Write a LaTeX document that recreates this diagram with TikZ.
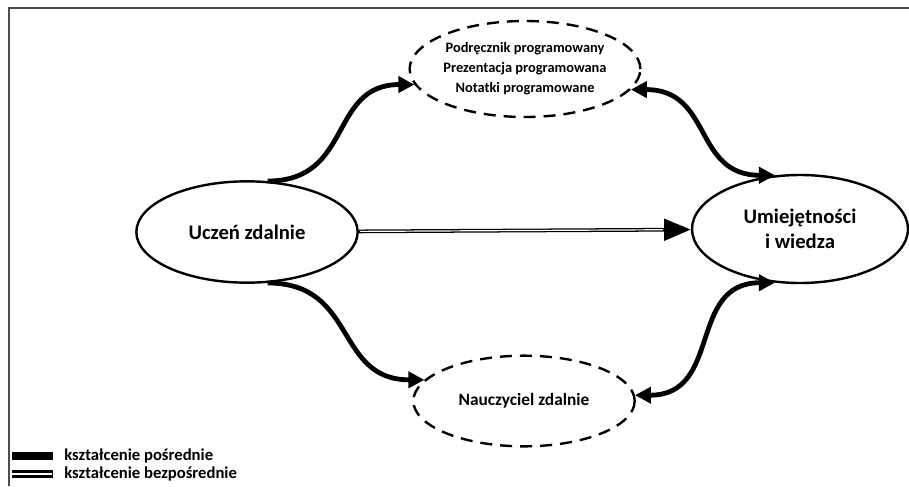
\documentclass[tikz,border=0pt]{standalone}
\usepackage{fontspec}
\setmainfont{Carlito}
\usetikzlibrary{shapes.geometric,arrows.meta}

\tikzset{
  blob/.style={ellipse,draw,line width=1.8pt,inner sep=0pt,align=center,font=\bfseries},
  dashblob/.style={blob,dash pattern=on 9pt off 6pt},
  bigtip/.style={-{Triangle[length=12pt,width=12pt]}},
  thickarr/.style={line width=3.6pt,bigtip},
  bothway/.style={line width=3.6pt,{Triangle[length=12pt,width=12pt]}-{Triangle[length=12pt,width=12pt]}},
}

\begin{document}
\begin{tikzpicture}[x=0.75pt,y=-0.75pt]
\useasboundingbox (0,0) rectangle (909,486);
% frame
\draw[black!70,line width=0.8pt] (9,486) -- (9,8) -- (909,8);

% ellipses
\node[blob,minimum width=166pt,minimum height=76pt,font=\fontsize{15.5}{19}\bfseries] (uczen) at (247,232) {Uczeń zdalnie};
\node[blob,minimum width=162pt,minimum height=81pt,font=\fontsize{15.5}{19}\bfseries] (umiej) at (800,229) {Umiejętności\\i wiedza};
\node[dashblob,minimum width=168pt,minimum height=72pt,font=\fontsize{10.8}{15}\bfseries] (podr) at (525,69) {Podręcznik programowany\\Prezentacja programowana\\Notatki programowane};
\node[dashblob,minimum width=166pt,minimum height=68pt,font=\fontsize{13}{16}\bfseries] (naucz) at (524,401) {Nauczyciel zdalnie};

% posrednie
\draw[thickarr] (uczen.68) to[out=0,in=180,looseness=1.25] (podr.188);
\draw[thickarr] (uczen.-68) to[out=0,in=180,looseness=1.25] (naucz.168);
\draw[bothway] (podr.349) to[out=0,in=180,looseness=1.25] (umiej.115);
\draw[bothway] (naucz.3) to[out=0,in=180,looseness=1.25] (umiej.-115);

% bezposrednie
\draw[line width=2.8pt,-{Triangle[length=20pt,width=16pt]}] (uczen) -- (umiej);
\draw[white,line width=0.9pt,shorten <=0.9pt,shorten >=21pt] (uczen) -- (umiej);

% legend
\fill (12,452) rectangle (53,460);
\fill (12,470) rectangle (53,478);
\fill[white] (12,473.4) rectangle (52,474.8);
\node[anchor=west,font=\fontsize{12.5}{15}\bfseries,inner sep=0pt] (lposr) at (64,456) {kształcenie pośrednie};
\node[anchor=west,font=\fontsize{12.5}{15}\bfseries,inner sep=0pt] (lbezp) at (64,474) {kształcenie bezpośrednie};
\end{tikzpicture}
\end{document}
